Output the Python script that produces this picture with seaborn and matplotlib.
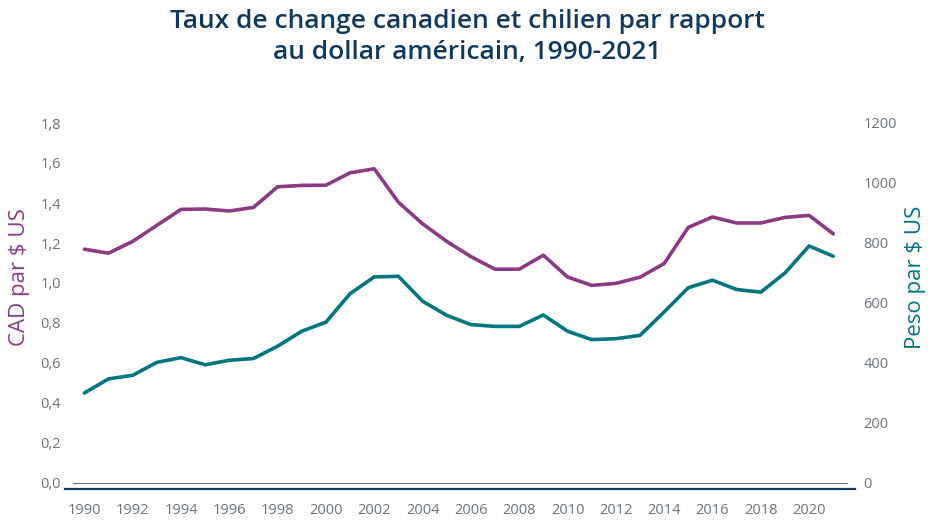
import matplotlib
matplotlib.use("Agg")
import matplotlib.pyplot as plt
import seaborn as sns
import pandas as pd

years = list(range(1990, 2022))
cad = [1.169, 1.149, 1.208, 1.288, 1.368, 1.370, 1.360, 1.378, 1.481, 1.488, 1.489,
       1.551, 1.571, 1.404, 1.296, 1.208, 1.132, 1.069, 1.069, 1.139, 1.030, 0.988,
       0.998, 1.029, 1.097, 1.278, 1.330, 1.300, 1.300, 1.328, 1.338, 1.246]
peso = [300, 347, 359, 402, 418, 394, 409, 415, 456, 506, 536,
        631, 687, 689, 606, 559, 528, 522, 522, 560, 506, 478,
        481, 492, 570, 651, 676, 645, 636, 700, 790, 756]
left_ticks = [0.0, 0.2, 0.4, 0.6, 0.8, 1.0, 1.2, 1.4, 1.6, 1.8]
left_labels = ["0,0", "0,2", "0,4", "0,6", "0,8", "1,0", "1,2", "1,4", "1,6", "1,8"]
right_ticks = [0, 200, 400, 600, 800, 1000, 1200]
x_ticks = list(range(1990, 2021, 2))

title_lines = ["Taux de change canadien et chilien par rapport",
               "au dollar américain, 1990-2021"]
left_label = "CAD par $ US"
right_label = "Peso par $ US"

purple = "#8c3a86"
teal = "#007681"
navy = "#0f3a5f"
gray = "#6b737a"

df = pd.DataFrame({"year": years, "cad": cad, "peso": peso})

sns.set_style("white")
plt.rcParams["font.family"] = ["Open Sans", "DejaVu Sans"]

W, H = 935, 524
fig = plt.figure(figsize=(9.35, 5.24), dpi=100)
ax = fig.add_axes([65 / W, 1 - 489 / H, 790 / W, 366 / H])
ax2 = ax.twinx()

sns.lineplot(data=df, x="year", y="cad", ax=ax, color=purple, linewidth=2.6)
sns.lineplot(data=df, x="year", y="peso", ax=ax2, color=teal, linewidth=2.6)

ax.set_xlim(1989.2, 2021.9)
ax.set_ylim(-0.03, 1.8)
ax2.set_ylim(-0.03 * 1200 / 1.8, 1200)

ax.set_yticks(left_ticks)
ax.set_yticklabels(left_labels)
ax2.set_yticks(right_ticks)
ax2.set_yticklabels([str(t) for t in right_ticks])
ax.set_xticks(x_ticks)
ax.set_xticklabels([str(t) for t in x_ticks])

for a in (ax, ax2):
    for s in ("top", "left", "right", "bottom"):
        a.spines[s].set_visible(False)
    a.tick_params(length=0, labelsize=10.5, labelcolor=gray)
    a.grid(False)

ax.spines["bottom"].set_visible(True)
ax.spines["bottom"].set_color(navy)
ax.spines["bottom"].set_linewidth(1.6)
ax.axhline(0, xmin=0.01, xmax=0.99, color=gray, linewidth=0.8)

ax.tick_params(axis="x", pad=10)
ax.tick_params(axis="y", pad=3)
ax2.tick_params(axis="y", pad=6)

ax.set_xlabel("")
ax.set_ylabel("")
ax2.set_ylabel("")

fig.text(20 / W, 1 - 277 / H, left_label, rotation=90, ha="center", va="center",
         color=purple, fontsize=16, fontweight="medium")
fig.text(916 / W, 1 - 277 / H, right_label, rotation=90, ha="center", va="center",
         color=teal, fontsize=16, fontweight="medium")

fig.text(0.5, 1 - 22 / H, title_lines[0], ha="center", va="center", fontsize=19,
         color=navy, fontweight="semibold")
fig.text(0.5, 1 - 52 / H, title_lines[1], ha="center", va="center", fontsize=19,
         color=navy, fontweight="semibold")

fig.savefig("out.png", dpi=100)
